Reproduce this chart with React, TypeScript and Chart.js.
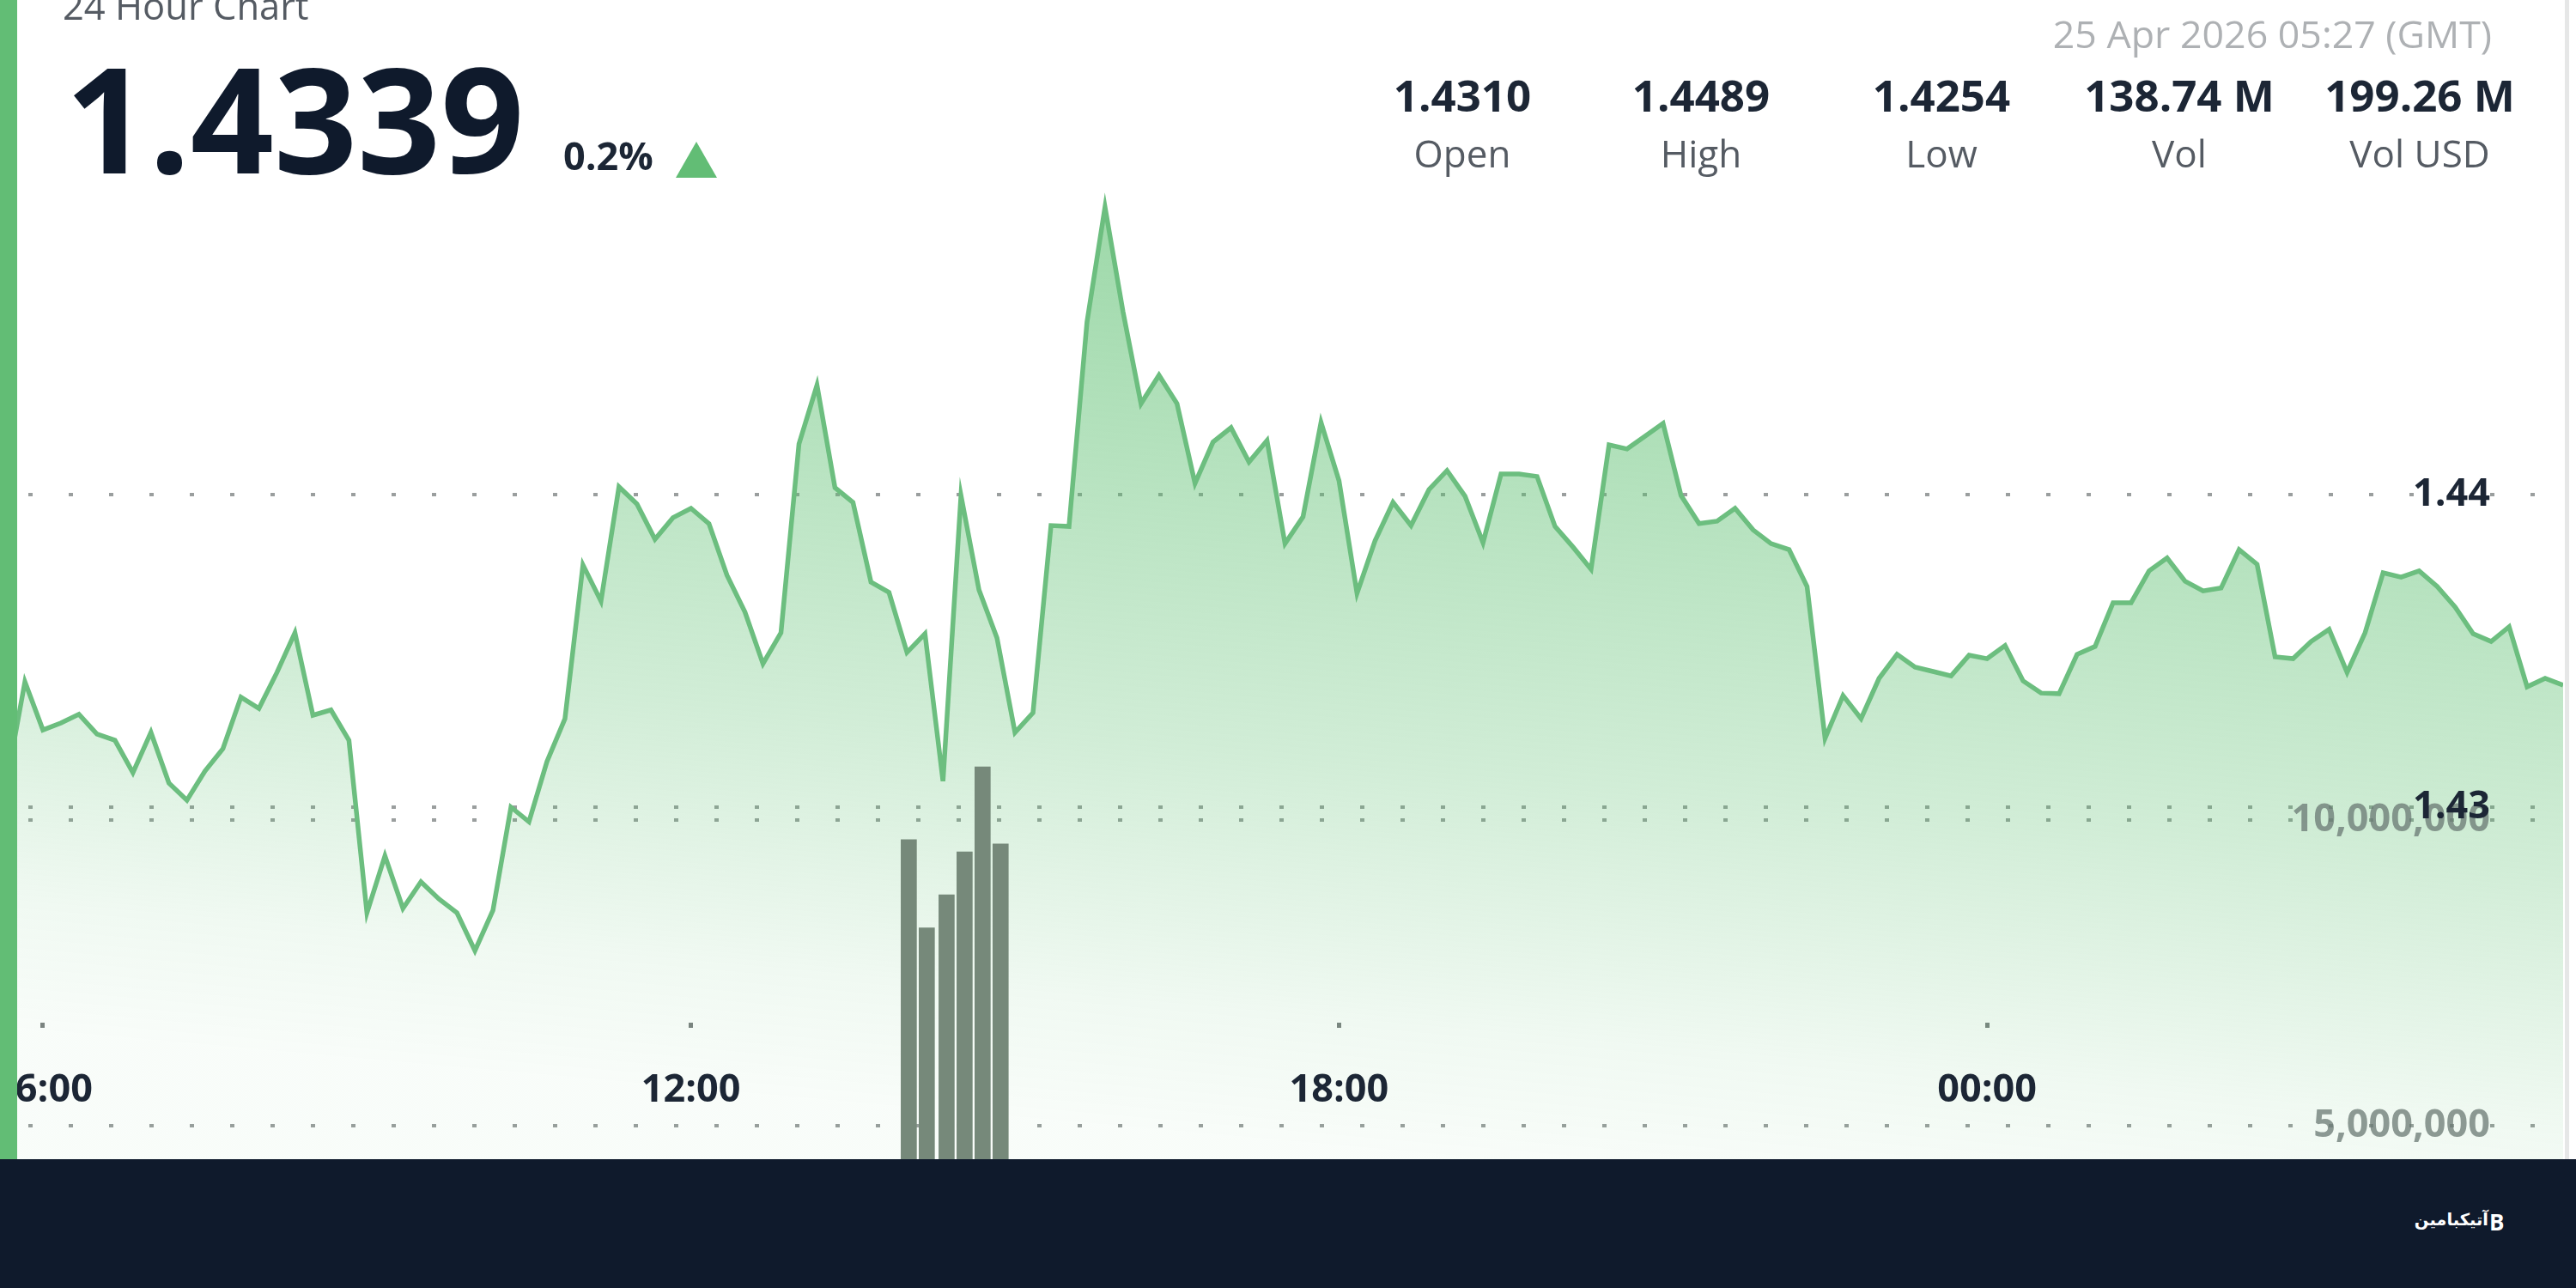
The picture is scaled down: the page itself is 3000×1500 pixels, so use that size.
import React, { useEffect, useRef } from "react";
import { Chart, registerables } from "chart.js";

Chart.register(...registerables);

// minutes after 06:00 of the first plotted sample, samples are ten minutes apart
const firstSampleMinute = -20;
const sampleStepMinutes = 10;

const prices = [
  1.43085, 1.43401, 1.43247, 1.43269, 1.43297, 1.43234, 1.43214, 1.4311, 1.43239, 1.43077,
  1.43022, 1.43115, 1.43187, 1.43352, 1.43316, 1.43431, 1.43558, 1.43294, 1.43311, 1.43214,
  1.42662, 1.42844, 1.42676, 1.42761, 1.42706, 1.42662, 1.42541, 1.4267, 1.43, 1.42953,
  1.43146, 1.43283, 1.43775, 1.43659, 1.44025, 1.4397, 1.43857, 1.43926, 1.43956, 1.43907,
  1.43742, 1.43624, 1.43459, 1.43558, 1.44162, 1.4435, 1.44022, 1.43975, 1.4372, 1.43687,
  1.43495, 1.43555, 1.43083, 1.43997, 1.43695, 1.43541, 1.43239, 1.43302, 1.43901, 1.43898,
  1.44552, 1.4492, 1.44585, 1.44291, 1.44382, 1.44291, 1.44036, 1.44168, 1.44214, 1.44104,
  1.44173, 1.43843, 1.43929, 1.44231, 1.44044, 1.43684, 1.43852, 1.43975, 1.43901, 1.44016,
  1.44077, 1.43995, 1.43846, 1.44066, 1.44066, 1.44058, 1.43898, 1.43832, 1.43761, 1.44159,
  1.44146, 1.44187, 1.44228, 1.43997, 1.43907, 1.43915, 1.43956, 1.43887, 1.43843, 1.43824,
  1.43706, 1.4322, 1.43357, 1.43283, 1.43412, 1.43489, 1.43448, 1.43434, 1.4342, 1.43486,
  1.43475, 1.43517, 1.43404, 1.43365, 1.43363, 1.43489, 1.43514, 1.43654, 1.43654, 1.43756,
  1.43797, 1.43723, 1.43692, 1.43701, 1.43824, 1.43777, 1.43481, 1.43475, 1.4353, 1.43569,
  1.43431, 1.43558, 1.4375, 1.43736, 1.43756, 1.43706, 1.4364, 1.43555, 1.4353, 1.43577,
  1.43385, 1.43412, 1.4339,
];

const volumeMinutes = [481, 491, 502, 512, 522, 532];
const volumes = [9680000, 8240000, 8780000, 9480000, 10870000, 9610000];

const timeTickMinutes = [0, 360, 720, 1080];
const timeTickLabels = ["06:00", "12:00", "18:00", "00:00"];
const priceTicks = [1.43, 1.44];
const volumeTicks = [5000000, 10000000];

const headerTitle = "24 Hour Chart";
const headerPrice = "1.4339";
const headerChange = "0.2%";
const headerDate = "25 Apr 2026 05:27 (GMT)";
const statValues = ["1.4310", "1.4489", "1.4254", "138.74 M", "199.26 M"];
const statNames = ["Open", "High", "Low", "Vol", "Vol USD"];
const statCentres = [1703, 1981, 2261, 2538, 2818];
const footerText = "آتیکبامین";

const FONT = "'Open Sans', 'Noto Sans', sans-serif";
const INK = "#0f1a2c";
const GREEN = "#62bd75";

function fillGradient(c: any) {
  const chart = c.chart;
  const g = chart.ctx.createLinearGradient(1800, 0, 1680, chart.height);
  g.addColorStop(0, "rgba(90,190,110,0.62)");
  g.addColorStop(0.173, "rgba(90,190,110,0.62)");
  g.addColorStop(0.667, "rgba(90,190,110,0.28)");
  g.addColorStop(0.889, "rgba(90,190,110,0.09)");
  g.addColorStop(1, "rgba(90,190,110,0.04)");
  return g;
}

const zeroOut = (s: any) => {
  if (s.isHorizontal()) s.height = 0;
  else s.width = 0;
  s.paddingLeft = 0;
  s.paddingRight = 0;
  s.paddingTop = 0;
  s.paddingBottom = 0;
};

const dotGrid = {
  color: "rgba(120,125,125,0.75)",
  lineWidth: 4,
  drawTicks: false,
};
const dotBorder = { display: false, dash: [5, 42], dashOffset: 34 };
const labelFont = { family: FONT, size: 45, weight: 700 as any };

export default function App() {
  const canvasRef = useRef<HTMLCanvasElement | null>(null);

  useEffect(() => {
    const chart = new Chart(canvasRef.current as HTMLCanvasElement, {
      data: {
        datasets: [
          {
            type: "bar",
            xAxisID: "x",
            yAxisID: "yVolume",
            data: volumeMinutes.map((x, i) => ({ x, y: volumes[i] })),
            backgroundColor: "#76897a",
            barThickness: 18,
            order: 1,
          },
          {
            type: "line",
            xAxisID: "x",
            yAxisID: "yPrice",
            data: prices.map((y, i) => ({ x: firstSampleMinute + i * sampleStepMinutes, y })),
            borderColor: "#6cbe7f",
            borderWidth: 5.5,
            borderJoinStyle: "miter",
            pointRadius: 0,
            tension: 0,
            fill: "start",
            backgroundColor: fillGradient,
            order: 2,
          },
        ] as any,
      },
      options: {
        animation: false,
        responsive: false,
        devicePixelRatio: 1,
        layout: { padding: { left: 20, right: 15, top: 0, bottom: 0 } },
        plugins: { legend: { display: false }, title: { display: false }, tooltip: { enabled: false } },
        scales: {
          x: {
            type: "linear",
            position: "bottom",
            offset: false,
            min: -14.3,
            max: 1400,
            afterBuildTicks: (s: any) => {
              s.ticks = timeTickMinutes.map((value) => ({ value }));
            },
            afterFit: zeroOut,
            grid: {
              offset: false,
              color: "rgba(110,115,115,0.9)",
              lineWidth: 5,
              drawTicks: false,
            },
            border: { display: false, dash: [0, 1191, 6, 4000] },
            ticks: {
              autoSkip: false,
              maxRotation: 0,
              mirror: true,
              padding: 53,
              z: 1,
              color: "#1c2635",
              font: labelFont,
              callback: (v: any) => timeTickLabels[timeTickMinutes.indexOf(Number(v))],
            },
          },
          yPrice: {
            type: "linear",
            position: "right",
            min: 1.418736,
            max: 1.455824,
            afterBuildTicks: (s: any) => {
              s.ticks = priceTicks.map((value) => ({ value }));
            },
            afterFit: zeroOut,
            grid: dotGrid,
            border: dotBorder,
            ticks: {
              mirror: true,
              padding: -85,
              z: 2,
              color: "#1c2635",
              font: labelFont,
              callback: (v: any) => Number(v).toFixed(2),
            },
          },
          yVolume: {
            type: "linear",
            position: "right",
            min: 4460000,
            max: 23394000,
            afterBuildTicks: (s: any) => {
              s.ticks = volumeTicks.map((value) => ({ value }));
            },
            afterFit: zeroOut,
            grid: dotGrid,
            border: dotBorder,
            ticks: {
              mirror: true,
              padding: -85,
              z: 1,
              color: "rgba(105,120,115,0.75)",
              font: labelFont,
              callback: (v: any) => Number(v).toLocaleString("en-US"),
            },
          },
        },
      } as any,
    });
    return () => chart.destroy();
  }, []);

  const text = (content: string, style: React.CSSProperties, key?: React.Key) => (
    <div
      key={key}
      style={{
        position: "absolute",
        fontFamily: FONT,
        whiteSpace: "nowrap",
        lineHeight: 1,
        ...style,
      }}
    >
      {content}
    </div>
  );

  return (
    <div
      style={{
        position: "absolute",
        left: 0,
        top: 0,
        width: 3000,
        height: 1500,
        overflow: "hidden",
        background: "#ffffff",
      }}
    >
      <canvas
        ref={canvasRef}
        width={3000}
        height={1350}
        style={{ position: "absolute", left: 0, top: 0, width: 3000, height: 1350, display: "block" }}
      />

      {/* edges of the card */}
      <div style={{ position: "absolute", left: 0, top: 0, width: 20, height: 1350, background: GREEN }} />
      <div style={{ position: "absolute", left: 2987, top: 0, width: 5, height: 1350, background: "#e6e7e7" }} />

      {/* header */}
      {text(headerTitle, { left: 73, top: -15, fontSize: 43.5, color: "#555b63" })}
      {text(headerPrice, { left: 76, top: 51, fontSize: 170, fontWeight: 700, color: INK })}
      {text(headerChange, { left: 656, top: 158, fontSize: 45, fontWeight: 700, color: "#1c2635" })}
      <div
        style={{
          position: "absolute",
          left: 787,
          top: 165,
          width: 0,
          height: 0,
          borderLeft: "24px solid transparent",
          borderRight: "24px solid transparent",
          borderBottom: `42px solid ${GREEN}`,
        }}
      />
      {text(headerDate, { right: 98, top: 17, fontSize: 44.7, color: "#aeb1b4" })}
      {statValues.map((v, i) =>
        text(
          v,
          { left: statCentres[i], top: 110, transform: "translate(-50%,-50%)", fontSize: 51, fontWeight: 700, color: "#1c2635" },
          "v" + i,
        ),
      )}
      {statNames.map((v, i) =>
        text(
          v,
          { left: statCentres[i], top: 178, transform: "translate(-50%,-50%)", fontSize: 44, color: "#555b63" },
          "n" + i,
        ),
      )}

      {/* footer */}
      <div style={{ position: "absolute", left: 0, top: 1350, width: 3000, height: 150, background: INK }} />
      {text(footerText, {
        right: 102,
        top: 1411,
        fontSize: 19.5,
        fontWeight: 700,
        fontFamily: "'DejaVu Sans', sans-serif",
        color: "#ffffff",
        direction: "rtl",
      })}
      {text("B", {
        left: 2899,
        top: 1410,
        fontSize: 26,
        fontWeight: 700,
        color: "#ffffff",
      })}
    </div>
  );
}
